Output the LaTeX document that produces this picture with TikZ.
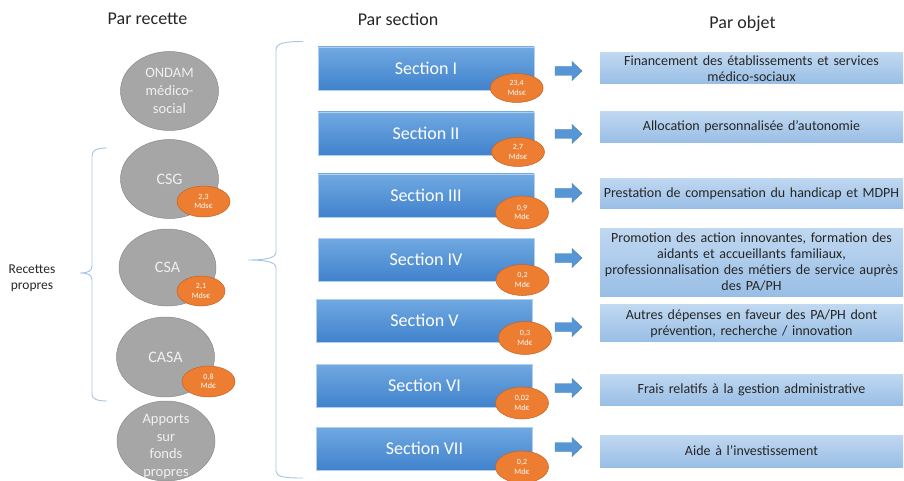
\documentclass[tikz,border=0pt]{standalone}
\usepackage{fontspec}
\setmainfont{Carlito}
\usetikzlibrary{shapes.geometric}

\definecolor{fundgray}{RGB}{166,166,166}
\definecolor{fundedge}{RGB}{140,140,140}
\definecolor{badgeorange}{RGB}{237,125,49}
\definecolor{badgeedge}{RGB}{196,98,36}
\definecolor{secTop}{RGB}{113,169,226}
\definecolor{secBot}{RGB}{64,130,204}
\definecolor{objTop}{RGB}{192,216,241}
\definecolor{objBot}{RGB}{153,190,229}
\definecolor{arrowblue}{RGB}{86,150,212}
\definecolor{braceblue}{RGB}{160,197,231}

\begin{document}
\begin{tikzpicture}[x=1pt,y=-1pt,
  title/.style={font=\fontsize{18}{20}\selectfont, text=black!85},
  fund/.style={ellipse, fill=fundgray, draw=fundedge, line width=0.5pt,
    minimum width=98pt, minimum height=79pt, inner sep=0pt,
    text=white!94!black, align=center},
  fundtext/.style={text=white!94!black, align=center, inner sep=0pt},
  badge/.style={ellipse, fill=badgeorange, draw=badgeedge, line width=0.5pt,
    minimum width=53pt, minimum height=31pt, inner sep=0pt, text=white,
    align=center, font=\fontsize{8}{9.5}\selectfont},
  sectionbox/.style={rectangle, top color=secTop, bottom color=secBot,
    draw=secTop!55!white, line width=0.5pt, minimum width=216pt,
    minimum height=43pt, inner sep=0pt, text=white,
    font=\fontsize{18}{20}\selectfont},
  objbox/.style={rectangle, top color=objTop, bottom color=objBot,
    draw=none, minimum width=303pt, inner sep=0pt, text=black!85,
    align=center, text width=300pt, font=\fontsize{14}{16}\selectfont},
  brace/.style={draw=braceblue, line width=0.9pt},
  blockarrow/.pic={
    \filldraw[fill=arrowblue, draw=arrowblue!85!black, line width=0.4pt]
      (0,-4.5) -- (17,-4.5) -- (17,-9.5) -- (27,0) -- (17,9.5) -- (17,4.5)
      -- (0,4.5) -- cycle;}
]
\useasboundingbox (0,0) rectangle (904,481);

% column headings
\node[title] (hRec) at (147.5,19) {Par recette};
\node[title] (hSec) at (398,19) {Par section};
\node[title] (hObj) at (742.5,23.5) {Par objet};

% funding sources
\node[fund, font=\fontsize{14.5}{18}\selectfont] (ondam) at (169.5,91)
  {ONDAM\\médico-\\social};
\node[fund, font=\fontsize{16}{18}\selectfont] (csg) at (169.5,179) {CSG};
\node[fund, font=\fontsize{16}{18}\selectfont, minimum width=97pt,
  minimum height=77pt] (csa) at (167.5,267.5) {CSA};
\node[fund, font=\fontsize{16}{18}\selectfont, minimum height=80pt]
  (casa) at (165.5,357) {CASA};
\node[fund, minimum height=80pt] (apports) at (166,441) {};
\node[fundtext, font=\fontsize{14.5}{17.7}\selectfont] (apportsText)
  at (166,446.5) {Apports\\sur\\fonds\\propres};

\node[badge] (bCsg) at (203.5,201.5) {2,3\\Mds€};
\node[badge, minimum width=48pt, minimum height=30pt] (bCsa) at (201,291)
  {2,1\\Mds€};
\node[badge] (bCasa) at (208.5,381.5) {0,8\\Md€};

% brace grouping the own revenues
\draw[brace] (107,148) .. controls (97,148) and (92,150) .. (92,156)
  -- (92,266) .. controls (92,271) and (88,273) .. (80,273)
  .. controls (88,273) and (92,275) .. (92,280)
  -- (92,394) .. controls (92,399) and (97,401) .. (107,401);
\node[align=center, inner sep=0pt, text=black!85,
  font=\fontsize{13.5}{16.5}\selectfont] (own) at (32,278.5)
  {Recettes\\propres};

% brace gathering all revenues into the sections
\draw[brace] (303,41.5) .. controls (285,41.5) and (276,43) .. (276,50)
  -- (276,252) .. controls (276,258) and (266,260) .. (248,260)
  .. controls (266,260) and (276,262) .. (276,268)
  -- (276,471) .. controls (276,477) and (285,478) .. (303,478);

% budget sections
\node[sectionbox] (s1) at (426,68.5) {Section I};
\node[sectionbox] (s2) at (426,133.5) {Section II};
\node[sectionbox] (s3) at (426,195.5) {Section III};
\node[sectionbox] (s4) at (426,259.5) {Section IV};
\node[sectionbox] (s5) at (424.5,320.5) {Section V};
\node[sectionbox] (s6) at (424.5,385.5) {Section VI};
\node[sectionbox] (s7) at (424.5,448.5) {Section VII};

\node[badge, minimum height=29pt] (b1) at (516.7,88) {23,4\\Mds€};
\node[badge, minimum height=29pt] (b2) at (518,152) {2,7\\Mds€};
\node[badge, minimum height=33pt] (b3) at (522,212.5) {0,9\\Md€};
\node[badge, minimum height=31pt] (b4) at (522.5,280) {0,2\\Md€};
\node[badge, minimum height=33pt] (b5) at (525,338) {0,3\\Md€};
\node[badge, minimum height=32pt] (b6) at (522,403) {0,02\\Md€};
\node[badge, minimum height=32pt] (b7) at (522,467) {0,2\\Md€};

% arrows towards the spending objects
\pic at (555,71) {blockarrow};
\pic at (555,134) {blockarrow};
\pic at (555,193) {blockarrow};
\pic at (555,258) {blockarrow};
\pic at (555,327) {blockarrow};
\pic at (555,388) {blockarrow};
\pic at (555,447) {blockarrow};

% spending objects
\node[objbox, minimum height=31pt] (o1) at (751.5,68.4)
  {Financement des établissements et services\\médico-sociaux};
\node[objbox, minimum height=31pt] (o2) at (751.5,127)
  {Allocation personnalisée d’autonomie};
\node[objbox, minimum height=30pt] (o3) at (751.5,193.3)
  {Prestation de compensation du handicap et MDPH};
\node[objbox, minimum height=68pt] (o4) at (751.5,262)
  {Promotion des action innovantes, formation des\\aidants et accueillants familiaux,\\professionnalisation des métiers de service auprès\\des PA/PH};
\node[objbox, minimum height=37pt] (o5) at (751.5,323.3)
  {Autres dépenses en faveur des PA/PH dont\\prévention, recherche / innovation};
\node[objbox, minimum height=31pt] (o6) at (751.5,389.5)
  {Frais relatifs à la gestion administrative};
\node[objbox, minimum height=32pt] (o7) at (751.5,451)
  {Aide à l’investissement};
\end{tikzpicture}
\end{document}
